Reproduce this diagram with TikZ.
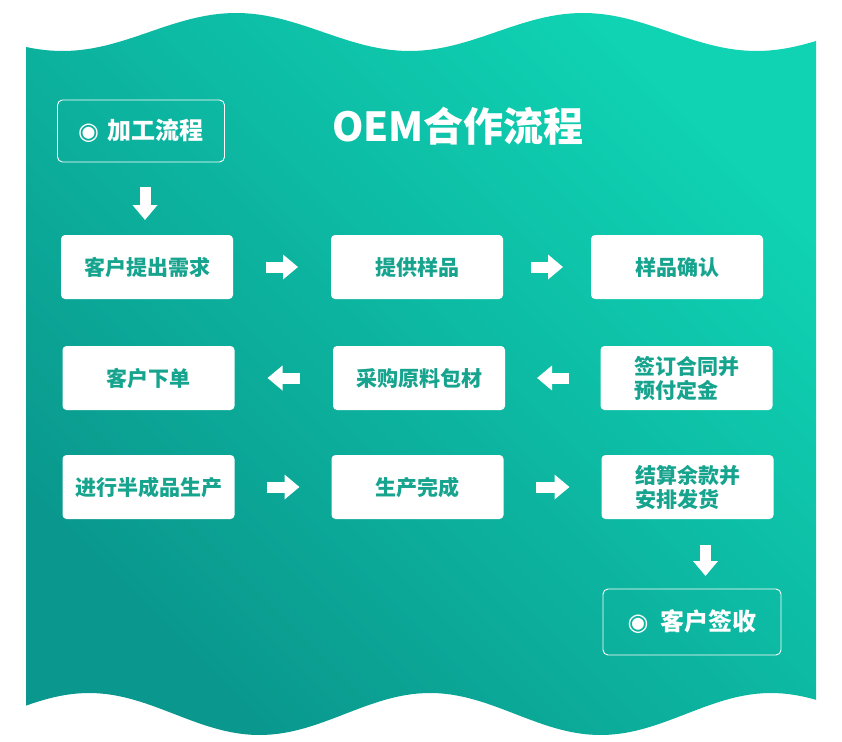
\documentclass[tikz,border=0pt]{standalone}
\usepackage{fontspec}
\setmainfont{Noto Sans CJK SC}
\newfontfamily\symfont{DejaVu Sans}
\usetikzlibrary{positioning,arrows.meta,calc}
\definecolor{tealdark}{HTML}{0A978D}
\definecolor{teallight}{HTML}{0FD3B3}
\definecolor{boxtext}{HTML}{16A48E}

\begin{document}
\begin{tikzpicture}[
  x=1pt, y=-1pt,
  stepbox/.style={rounded corners=4pt, fill=white, minimum width=172pt,
    minimum height=64pt, inner sep=0pt, outer sep=0pt, align=left,
    text=boxtext, font=\fontsize{21}{24}\selectfont\bfseries},
  endbox/.style={rounded corners=5pt, draw=white, line width=0.9pt,
    inner sep=0pt, outer sep=0pt, text=white,
    font=\fontsize{24}{28}\selectfont\bfseries},
  flow/.style={-{Triangle[length=15pt,width=24pt]}, line width=11pt,
    white, shorten <=#1, shorten >=#1},
  flow/.default=32pt
]
% An 842 by 741 canvas, one unit per pixel of the reference.
\path[use as bounding box] (0,0) rectangle (842,741);

% Teal panel with a wavy top and bottom edge.
\shade[top color=teallight, bottom color=tealdark, shading angle=-45]
  plot[domain=26:816, samples=120] (\x, {32-19*cos(1.0375*(\x-236))})
  -- plot[domain=816:26, samples=120] (\x, {714-21*cos(1.0557*(\x-89))})
  -- cycle;

\node[font=\fontsize{40}{44}\selectfont\bfseries, text=white]
  (title) at (458,126) {OEM合作流程};

% Start and end markers: outlined boxes.
\node[endbox, minimum width=167pt, minimum height=62pt] (p0) at (141,131)
  {{\symfont ◉}\hspace{9pt}加工流程};
\node[endbox, minimum width=178pt, minimum height=66pt] (p10) at (692,622)
  {{\symfont ◉}\hspace{12pt}客户签收};

% Three rows of white step boxes.
\node[stepbox] (p1) at (147,267) {客户提出需求};
\node[stepbox] (p2) at (417,267) {提供样品};
\node[stepbox] (p3) at (677,267) {样品确认};
\node[stepbox] (p4) at (686.5,378) {签订合同并\\预付定金};
\node[stepbox] (p5) at (419,378) {采购原料包材};
\node[stepbox] (p6) at (148.5,378) {客户下单};
\node[stepbox] (p7) at (148.5,487) {进行半成品生产};
\node[stepbox] (p8) at (417.5,487) {生产完成};
\node[stepbox] (p9) at (687.5,487) {结算余款并\\安排发货};

% Block arrows in the gaps.
\draw[flow, shorten <=25pt, shorten >=15pt]
  ([xshift=4pt]p0.south) -- ([xshift=4pt]p0.south |- p1.north);
\draw[flow=33pt] (p1.east) -- (p2.west);
\draw[flow=28pt] (p2.east) -- (p3.west);
\draw[flow=32pt] (p4.west) -- (p5.east);
\draw[flow=33pt] (p5.west) -- (p6.east);
\draw[flow=32pt] (p7.east) -- (p8.west);
\draw[flow=32pt] (p8.east) -- (p9.west);
\draw[flow, shorten <=26pt, shorten >=13pt]
  ([xshift=18pt]p9.south) -- ([xshift=18pt]p9.south |- p10.north);
\end{tikzpicture}
\end{document}
